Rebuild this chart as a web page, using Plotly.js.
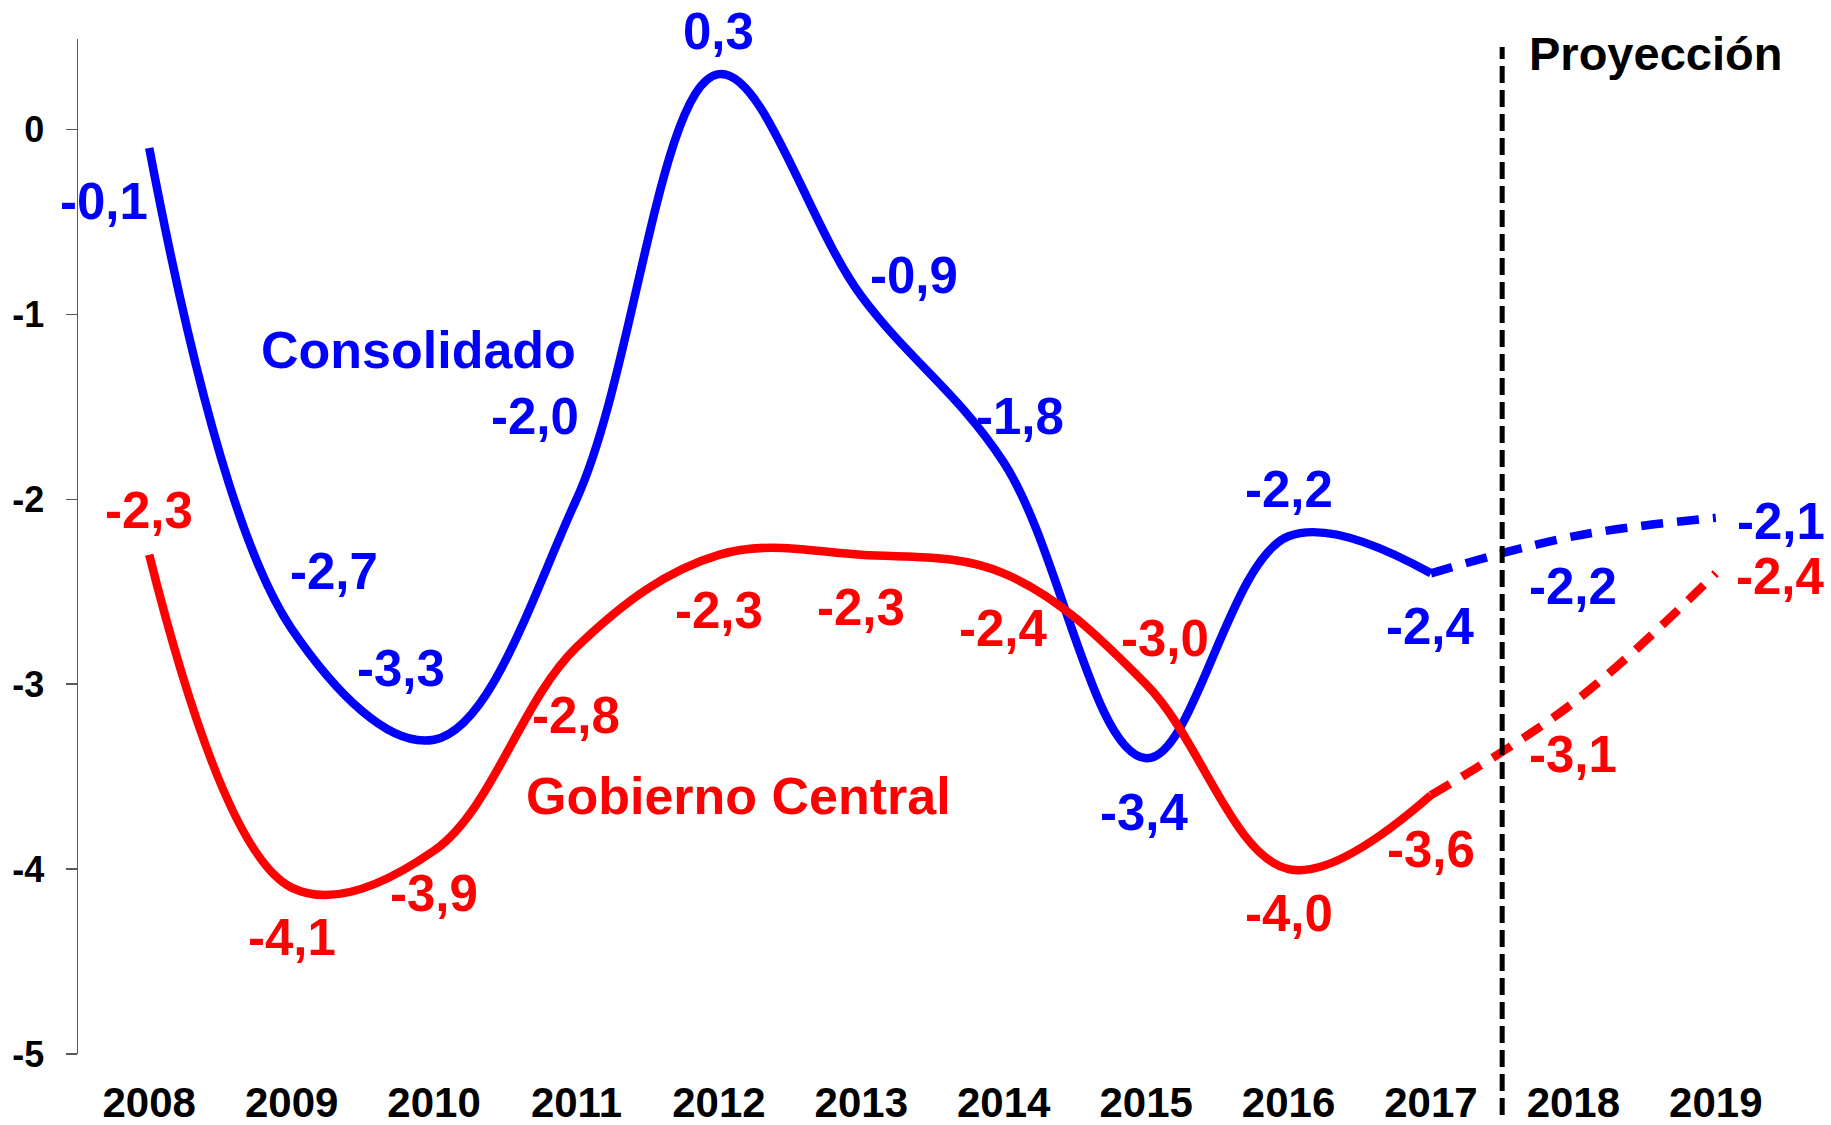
<!DOCTYPE html>
<html>
<head>
<meta charset="utf-8">
<script src="https://cdn.plot.ly/plotly-3.0.1.min.js"></script>
<style>
  html, body { margin: 0; padding: 0; background: #fff; }
  #chart { width: 1831px; height: 1125px; }
</style>
</head>
<body>
<div id="chart"></div>
<script>
// datos del gráfico
const years = ["2008", "2009", "2010", "2011", "2012", "2013", "2014", "2015", "2016", "2017", "2018", "2019"];
const consolidado = [-0.1, -2.7, -3.3, -2.0, 0.3, -0.9, -1.8, -3.4, -2.2, -2.4, -2.2, -2.1];
const gobiernoCentral = [-2.3, -4.1, -3.9, -2.8, -2.3, -2.3, -2.4, -3.0, -4.0, -3.6, -3.1, -2.4];
const yTicks = [0, -1, -2, -3, -4, -5];
const lastActual = "2017";

// desplazamiento de cada etiqueta en px (x, y hacia arriba)
const blueOffsets = [[-45, -53], [42, 57], [-33, 71], [-41, 83], [0, 43], [53, 20], [16, 46], [-2, -54], [0, 47], [0, -53], [0, -50], [65, -4]];
const redOffsets = [[0, 44], [0, -50], [0, -43], [0, -68], [0, -56], [0, -53], [0, -55], [19, 46], [0, -44], [0, -54], [0, -52], [65, -3]];

const BLUE = "#0000FF";
const RED = "#FF0000";
const FONT = "Liberation Sans, Arial, sans-serif";
const yRange = [-5, 0.49];

const cut = years.indexOf(lastActual);

function seriesTraces(values, color, name) {
    const solid = {
        x: years.slice(0, cut + 1),
        y: values.slice(0, cut + 1),
        type: "scatter",
        mode: "lines",
        name: name,
        line: { color: color, width: 8.5, shape: "spline", smoothing: 1.05 },
        hoverinfo: "skip",
    };
    const projected = {
        x: years.slice(cut),
        y: values.slice(cut),
        type: "scatter",
        mode: "lines",
        name: name + " (proyección)",
        line: { color: color, width: 8.5, shape: "spline", smoothing: 1.05, dash: "22px,14px" },
        hoverinfo: "skip",
    };
    return [solid, projected];
}

function valueLabels(values, color, offsets) {
    return values.map((v, i) => ({
        x: i,
        y: v,
        xref: "x",
        yref: "y",
        xanchor: "center",
        yanchor: "middle",
        text: v.toFixed(1).replace(".", ","),
        showarrow: false,
        xshift: offsets[i][0],
        yshift: offsets[i][1],
        font: { family: FONT, size: 51, color: color, weight: "bold" },
    }));
}

const data = [
    ...seriesTraces(consolidado, BLUE, "Consolidado"),
    ...seriesTraces(gobiernoCentral, RED, "Gobierno Central"),
];

const boundaries = years.map((_, i) => i - 0.5).concat([years.length - 0.5]);
const zeroPos = (0 - yRange[0]) / (yRange[1] - yRange[0]);
const splitX = (cut + 1) / years.length;

const layout = {
    width: 1831,
    height: 1125,
    margin: { l: 78, r: 44, t: 39, b: 71 },
    paper_bgcolor: "#ffffff",
    plot_bgcolor: "#ffffff",
    showlegend: false,
    xaxis: {
        type: "category",
        categoryorder: "array",
        categoryarray: years,
        range: [-0.5, years.length - 0.5],
        showline: false,
        showgrid: false,
        zeroline: false,
        ticks: "",
        ticklabelstandoff: 20,
        tickfont: { family: FONT, size: 42, color: "#000", weight: "bold" },
    },
    xaxis2: {
        overlaying: "x",
        anchor: "free",
        position: zeroPos,
        side: "bottom",
        range: [-0.5, years.length - 0.5],
        tickmode: "array",
        tickvals: boundaries,
        showticklabels: false,
        ticks: "outside",
        ticklen: 12,
        tickwidth: 1.5,
        tickcolor: "#595959",
        showline: true,
        linecolor: "#595959",
        linewidth: 1.5,
        showgrid: false,
        zeroline: false,
    },
    yaxis: {
        range: yRange,
        tickmode: "array",
        tickvals: yTicks,
        ticktext: yTicks.map(String),
        showline: true,
        linecolor: "#595959",
        linewidth: 1.5,
        ticks: "outside",
        ticklen: 11,
        tickwidth: 1.5,
        tickcolor: "#595959",
        showgrid: false,
        zeroline: false,
        ticklabelstandoff: 14,
        tickfont: { family: FONT, size: 36, color: "#000", weight: "bold" },
    },
    shapes: [
        {
            type: "line",
            xref: "paper",
            yref: "paper",
            x0: splitX,
            x1: splitX,
            y0: -0.06,
            y1: 0.992,
            line: { color: "#000", width: 5, dash: "17px,7px" },
        },
    ],
    annotations: [
        ...valueLabels(consolidado, BLUE, blueOffsets),
        ...valueLabels(gobiernoCentral, RED, redOffsets),
        {
            x: 0.199, y: 0.6936, xref: "paper", yref: "paper",
            xanchor: "center", yanchor: "middle",
            text: "Consolidado", showarrow: false,
            font: { family: FONT, size: 52, color: BLUE, weight: "bold" },
        },
        {
            x: 0.3862, y: 0.254, xref: "paper", yref: "paper",
            xanchor: "center", yanchor: "middle",
            text: "Gobierno Central", showarrow: false,
            font: { family: FONT, size: 52, color: RED, weight: "bold" },
        },
        {
            x: 0.848, y: 0.986, xref: "paper", yref: "paper",
            xanchor: "left", yanchor: "middle",
            text: "Proyección", showarrow: false,
            font: { family: FONT, size: 47, color: "#000", weight: "bold" },
        },
    ],
};

Plotly.newPlot("chart", data, layout, { displayModeBar: false, staticPlot: true });
</script>
</body>
</html>
